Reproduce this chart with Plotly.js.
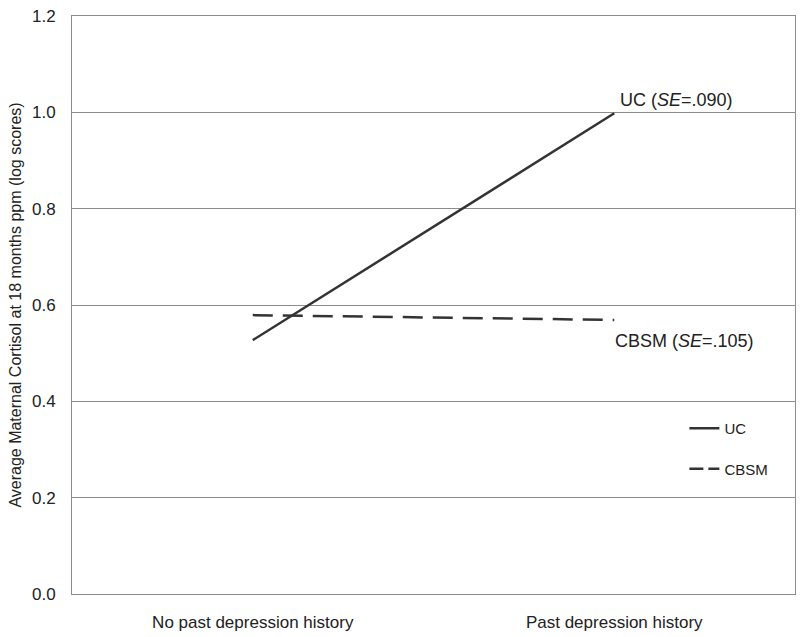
<!DOCTYPE html>
<html>
<head>
<meta charset="utf-8">
<script src="https://cdn.plot.ly/plotly-3.0.1.min.js"></script>
<style>
  html, body { margin: 0; padding: 0; background: #fff; }
  #chart { width: 800px; height: 637px; }
</style>
</head>
<body>
<div id="chart"></div>
<script>
// Groups on the x axis
const categories = ['No past depression history', 'Past depression history'];

// Estimated cortisol means (log scores) per condition
const ucValues = [0.527, 0.998];
const cbsmValues = [0.579, 0.569];

const yTicks = [0, 0.2, 0.4, 0.6, 0.8, 1.0, 1.2];
const yTickText = ['0.0', '0.2', '0.4', '0.6', '0.8', '1.0', '1.2'];

const lineColor = '#333333';
const textColor = '#222222';
const gridColor = '#8c8c8c';

const traces = [
    {
        x: categories, y: ucValues, name: 'UC', type: 'scatter', mode: 'lines',
        line: { color: lineColor, width: 2.5 }, showlegend: false
    },
    {
        x: categories, y: cbsmValues, name: 'CBSM', type: 'scatter', mode: 'lines',
        line: { color: lineColor, width: 2.5, dash: '20px,10px' }, showlegend: false
    },
    // legend entries only (the legend sample uses a shorter dash, as in the original)
    {
        x: [null], y: [null], name: 'UC', type: 'scatter', mode: 'lines',
        line: { color: lineColor, width: 2.5 }, legendgroup: 'uc'
    },
    {
        x: [null], y: [null], name: 'CBSM', type: 'scatter', mode: 'lines',
        line: { color: lineColor, width: 2.5, dash: '14px,5px' }, legendgroup: 'cbsm'
    }
];

const layout = {
    width: 800,
    height: 637,
    margin: { l: 72, r: 5, t: 16, b: 43 },
    paper_bgcolor: '#ffffff',
    plot_bgcolor: '#ffffff',
    font: { family: 'Liberation Sans, Arial, sans-serif', size: 15, color: textColor },
    showlegend: true,
    legend: {
        x: 0.847, y: 0.315, xanchor: 'left', yanchor: 'top',
        traceorder: 'grouped', tracegroupgap: 18,
        font: { size: 15, color: textColor },
        bgcolor: 'rgba(0,0,0,0)'
    },
    xaxis: {
        type: 'category',
        range: [-0.5, 1.5],
        showgrid: false,
        showline: true, linecolor: gridColor, linewidth: 1, mirror: true,
        ticks: '',
        ticklabelstandoff: 13,
        tickfont: { size: 17, color: textColor },
        zeroline: false
    },
    yaxis: {
        range: [0, 1.2],
        tickvals: yTicks,
        ticktext: yTickText,
        showgrid: true, gridcolor: gridColor, gridwidth: 1,
        showline: true, linecolor: gridColor, linewidth: 1, mirror: true,
        ticks: '',
        ticklabelstandoff: 12,
        tickfont: { size: 17, color: textColor },
        zeroline: false,
        title: {
            text: 'Average Maternal Cortisol at 18 months ppm (log scores)',
            font: { size: 16, color: textColor },
            standoff: 6
        }
    },
    annotations: [
        {
            x: 1.01, y: 1.026, xref: 'x', yref: 'y', xanchor: 'left', yanchor: 'middle',
            text: 'UC (<i>SE</i>=.090)', showarrow: false,
            font: { size: 18, color: textColor }
        },
        {
            x: 0.997, y: 0.525, xref: 'x', yref: 'y', xanchor: 'left', yanchor: 'middle',
            text: 'CBSM (<i>SE</i>=.105)', showarrow: false,
            font: { size: 18, color: textColor }
        }
    ]
};

Plotly.newPlot('chart', traces, layout, { displayModeBar: false, staticPlot: true });
</script>
</body>
</html>
